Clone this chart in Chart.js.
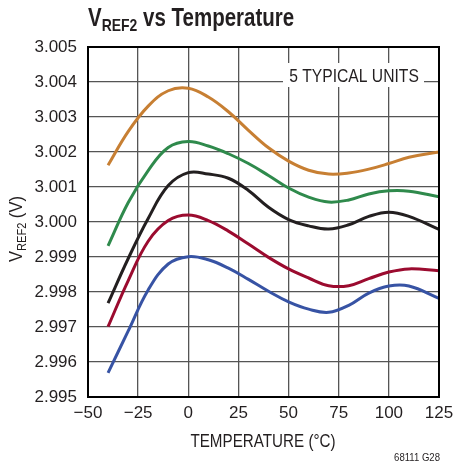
<!DOCTYPE html>
<html>
<head>
<meta charset="utf-8">
<script src="https://cdn.jsdelivr.net/npm/chart.js@4.4.1/dist/chart.umd.min.js"></script>
<style>
  body { margin: 0; background: #fff; }
  #wrap { width: 454px; height: 470px; }
</style>
</head>
<body>
<div id="wrap"><canvas id="vrefChart" width="454" height="470"></canvas></div>
<script>
// temperature points (°C) and 5 typical units (V)
let temps = [-40, -30, -20, -10, 0, 10, 20, 30, 40, 50, 60, 70, 80, 90, 100, 110, 125];
let unitOrange = [3.00162, 3.00258, 3.00331, 3.00375, 3.00382, 3.00357, 3.00315, 3.00262, 3.00212, 3.00174, 3.00148, 3.00137, 3.00140, 3.00151, 3.00167, 3.00185, 3.00200];
let unitGreen = [2.99932, 3.00055, 3.00147, 3.00213, 3.00230, 3.00217, 3.00195, 3.00167, 3.00133, 3.00097, 3.00071, 3.00057, 3.00063, 3.00080, 3.00089, 3.00088, 3.00072];
let unitBlack = [2.99768, 2.99895, 3.00010, 3.00104, 3.00141, 3.00137, 3.00125, 3.00090, 3.00042, 3.00007, 2.99989, 2.99980, 2.99992, 3.00016, 3.00028, 3.00016, 2.99979];
let unitRed = [2.99701, 2.99832, 2.99945, 3.00004, 3.00020, 3.00004, 2.99974, 2.99937, 2.99899, 2.99866, 2.99840, 2.99818, 2.99818, 2.99838, 2.99857, 2.99866, 2.99861];
let unitBlue = [2.99569, 2.99688, 2.99806, 2.99880, 2.99901, 2.99892, 2.99868, 2.99836, 2.99802, 2.99772, 2.99751, 2.99742, 2.99762, 2.99797, 2.99817, 2.99817, 2.99782];

let xTicks = [-50, -25, 0, 25, 50, 75, 100, 125];
let yTicks = [2.995, 2.996, 2.997, 2.998, 2.999, 3.000, 3.001, 3.002, 3.003, 3.004, 3.005];

let FONT = "'Liberation Sans', Arial, sans-serif";
let INK = '#231f20';

function toPoints(vals) {
    let pts = [];
    for (let i = 0; i < temps.length; i++) {
        pts.push({ x: temps[i], y: vals[i] });
    }
    return pts;
}

function makeSet(vals, color) {
    return {
        data: toPoints(vals),
        borderColor: color,
        borderWidth: 3,
        pointRadius: 0,
        tension: 0.4,
        fill: false
    };
}

// text squeezed horizontally to look like the condensed face of the original
function squeezed(ctx, text, x, y, font, sx, align) {
    ctx.save();
    ctx.font = font;
    ctx.textAlign = align || 'left';
    ctx.translate(x, y);
    ctx.scale(sx, 1);
    ctx.fillText(text, 0, 0);
    ctx.restore();
    ctx.font = font;
    return ctx.measureText(text).width * sx;
}

// "V" + subscript "REF2" + rest
function drawVref(ctx, x, y, size, weight, rest, sx) {
    let w = squeezed(ctx, "V", x, y, weight + " " + size + "px " + FONT, sx);
    let sub = Math.round(size * 0.68);
    let w2 = squeezed(ctx, "REF2", x + w, y + size * 0.2, weight + " " + sub + "px " + FONT, sx);
    squeezed(ctx, rest, x + w + w2, y, weight + " " + size + "px " + FONT, sx);
}

let decorPlugin = {
    id: 'decor',
    afterDraw(chart) {
        let ctx = chart.ctx;
        let a = chart.chartArea;
        ctx.save();
        // frame
        ctx.strokeStyle = '#000';
        ctx.lineWidth = 2;
        ctx.strokeRect(a.left, a.top, a.right - a.left, a.bottom - a.top);

        // label box
        ctx.fillStyle = '#fff';
        ctx.fillRect(283, 63, 141, 24);
        ctx.fillStyle = INK;
        ctx.textBaseline = 'alphabetic';
        squeezed(ctx, "5 TYPICAL UNITS", 354, 82, "18px " + FONT, 0.87, 'center');

        // title
        drawVref(ctx, 88, 26, 25, 'bold', " vs Temperature", 0.82);

        // y axis title
        ctx.save();
        ctx.translate(22, 262);
        ctx.rotate(-Math.PI / 2);
        drawVref(ctx, 0, 0, 18, 'normal', " (V)", 0.92);
        ctx.restore();

        // x axis title
        squeezed(ctx, "TEMPERATURE (°C)", 263, 447, "19px " + FONT, 0.8, 'center');

        // figure id
        squeezed(ctx, "68111 G28", 440, 461, "11px " + FONT, 0.87, 'right');
        ctx.restore();
    }
};

let datasets = [
    makeSet(unitOrange, '#c77f33'),
    makeSet(unitGreen, '#2f8a4c'),
    makeSet(unitBlack, '#231f20'),
    makeSet(unitRed, '#9b0b2f'),
    makeSet(unitBlue, '#3753a4')
];

new Chart(document.getElementById('vrefChart'), {
    type: 'line',
    data: { datasets: datasets },
    plugins: [decorPlugin],
    options: {
        responsive: false,
        animation: false,
        layout: { autoPadding: false, padding: { top: 47, right: 15, bottom: 0, left: 0 } },
        plugins: { legend: { display: false }, tooltip: { enabled: false } },
        scales: {
            x: {
                type: 'linear',
                min: -50,
                max: 125,
                afterFit: s => { s.height = 73; s.paddingLeft = 0; s.paddingRight = 0; },
                afterBuildTicks: s => { s.ticks = xTicks.map(v => ({ value: v })); },
                grid: { color: '#555', lineWidth: 1.3, drawTicks: false },
                border: { display: false },
                ticks: {
                    padding: 6,
                    maxRotation: 0,
                    color: INK,
                    font: { family: FONT, size: 17 },
                    callback: v => (v < 0 ? '\u2212' + Math.abs(v) : '' + v)
                }
            },
            y: {
                min: 2.995,
                max: 3.005,
                afterFit: s => { s.width = 88; s.paddingTop = 0; s.paddingBottom = 0; },
                afterBuildTicks: s => { s.ticks = yTicks.map(v => ({ value: v })); },
                grid: { color: '#555', lineWidth: 1.3, drawTicks: false },
                border: { display: false },
                ticks: {
                    padding: 11,
                    color: INK,
                    font: { family: FONT, size: 17 },
                    callback: v => v.toFixed(3)
                }
            }
        }
    }
});
</script>
</body>
</html>
